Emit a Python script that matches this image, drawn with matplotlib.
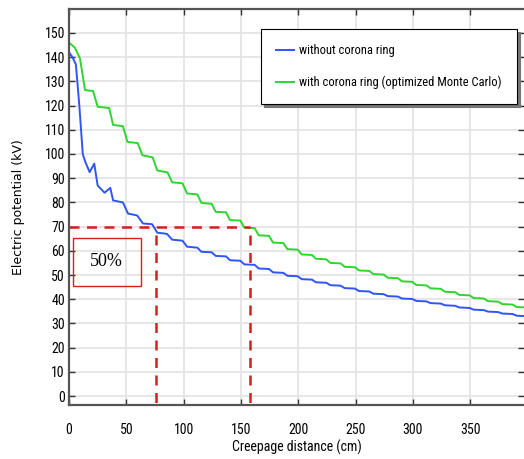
import matplotlib
matplotlib.use("Agg")
import matplotlib.pyplot as plt

# creepage distance (cm) / electric potential (kV)
blue_x = [0, 3, 6, 9, 12, 14, 18, 22, 25, 31, 36, 38.5, 47, 51.5, 59.5, 64.5, 72.5, 77,
          85.5, 90, 99, 103, 112,
          115.5, 124.5, 128, 137, 140.5, 149.5, 153, 162, 165.5, 174.5, 178, 187,
          190.5, 199.5, 203, 212, 215.5, 224.5, 228, 237, 240.5, 249.5, 253, 262,
          265.5, 274.5, 278, 287, 290.5, 299.5, 303, 312, 315.5, 324.5, 328, 337,
          340.5, 349.5, 353, 362, 365.5, 374.5, 378, 387, 390.5, 399]
blue_y = [142, 140, 137, 120, 100, 97, 92.5, 96, 87, 84, 86, 80.8, 80, 75.4, 74.6, 71.3, 71, 67.5,
          67, 64.6, 64.2, 61.7, 61.3,
          59.6, 59.4, 57.9, 57.7, 56.1, 55.9, 54.4, 54.2, 52.7, 52.5, 51.1, 50.9,
          49.7, 49.5, 48.3, 48.1, 47.0, 46.8, 45.8, 45.6, 44.6, 44.4, 43.4, 43.2,
          42.3, 42.1, 41.3, 41.1, 40.3, 40.1, 39.3, 39.1, 38.4, 38.2, 37.5, 37.3,
          36.6, 36.4, 35.7, 35.5, 34.9, 34.7, 34.1, 33.9, 33.2, 33.0]

green_x = [0, 5, 9.5, 14, 21, 25, 35, 38.5, 47, 51, 60, 64, 73, 77, 86, 90, 99, 103, 112,
           115.5, 124.5, 128, 137, 140.5, 149.5, 153, 162, 165.5, 174.5, 178, 187,
           190.5, 199.5, 203, 212, 215.5, 224.5, 228, 237, 240.5, 249.5, 253, 262,
           265.5, 274.5, 278, 287, 290.5, 299.5, 303, 312, 315.5, 324.5, 328, 337,
           340.5, 349.5, 353, 362, 365.5, 374.5, 378, 387, 390.5, 399]
green_y = [146, 144, 139.6, 126.4, 126, 119.5, 119, 112, 111.5, 105, 104.5, 99.5, 98.6, 93.2,
           92.4, 88.3, 87.9, 83.7, 83.3,
           79.8, 79.4, 76.1, 75.9, 72.7, 72.5, 69.6, 69.4, 66.4, 66.2, 63.4, 63.2,
           60.7, 60.5, 58.5, 58.3, 56.7, 56.5, 55.0, 54.8, 53.4, 53.2, 51.9, 51.7,
           50.4, 50.2, 48.9, 48.7, 47.4, 47.2, 45.9, 45.7, 44.5, 44.3, 43.1, 42.9,
           41.8, 41.6, 40.5, 40.3, 39.2, 39.0, 38.0, 37.8, 36.8, 36.6]

level_50 = 70
x_blue_50 = 76
x_green_50 = 158

x_ticks = [0, 50, 100, 150, 200, 250, 300, 350]
y_ticks = list(range(0, 160, 10))

narrow = ['Roboto Condensed', 'DejaVu Sans']

fig = plt.figure(figsize=(5.24, 4.59), dpi=100)
ax = fig.add_axes([0.1317, 0.1176, 0.8683, 0.8628])

ax.plot(blue_x, blue_y, color='#2f55f5', lw=1.4, label='without corona ring')
ax.plot(green_x, green_y, color='#2fd52f', lw=1.4,
        label='with corona ring (optimized Monte Carlo)')

# 50 % markers
ax.plot([0, x_green_50], [level_50, level_50], ls=(0, (4, 3)), color='#d42020', lw=1.8)
ax.plot([x_blue_50, x_blue_50], [-10, level_50], ls=(0, (4, 3)), color='#d42020', lw=1.8)
ax.plot([x_green_50, x_green_50], [-10, level_50], ls=(0, (4, 3)), color='#d42020', lw=1.8)
ax.add_patch(plt.Rectangle((3.5, 45.6), 59.5, 19.9, fill=False, ec='#d42020', lw=1.0))
ax.text(32.5, 55.5, '50%', family='Liberation Serif', fontsize=13,
        ha='center', va='center')

ax.set_xlim(0, 397)
ax.set_ylim(-3.7, 159.9)
ax.set_xticks(x_ticks)
ax.set_yticks(y_ticks)
ax.grid(True, color='#e4e4e4', lw=1.3)
ax.set_axisbelow(True)

ax.tick_params(direction='in', length=4, width=1, color='#333333',
               top=True, right=True, labelsize=10)
ax.tick_params(axis='x', pad=13)
ax.tick_params(axis='y', pad=3)
for lab in ax.get_xticklabels() + ax.get_yticklabels():
    lab.set_family(narrow)

for s in ['left', 'top', 'bottom']:
    ax.spines[s].set_color('#555555')
    ax.spines[s].set_linewidth(1.6)
ax.spines['right'].set_visible(False)

ax.set_xlabel('Creepage distance (cm)', family=narrow, fontsize=10, labelpad=2)
ax.set_ylabel('Electric potential (kV)', family='DejaVu Sans', fontsize=9, labelpad=14)

leg = ax.legend(loc='upper right', bbox_to_anchor=(0.9846, 0.9495), borderaxespad=0,
                fancybox=False, shadow={'color': '#777777', 'alpha': 1},
                framealpha=1, edgecolor='black',
                handlelength=1.5, handletextpad=0.4,
                borderpad=1.2, labelspacing=1.5,
                prop={'family': narrow, 'size': 9})
leg.get_frame().set_linewidth(0.8)

fig.savefig('out.png', dpi=100)
